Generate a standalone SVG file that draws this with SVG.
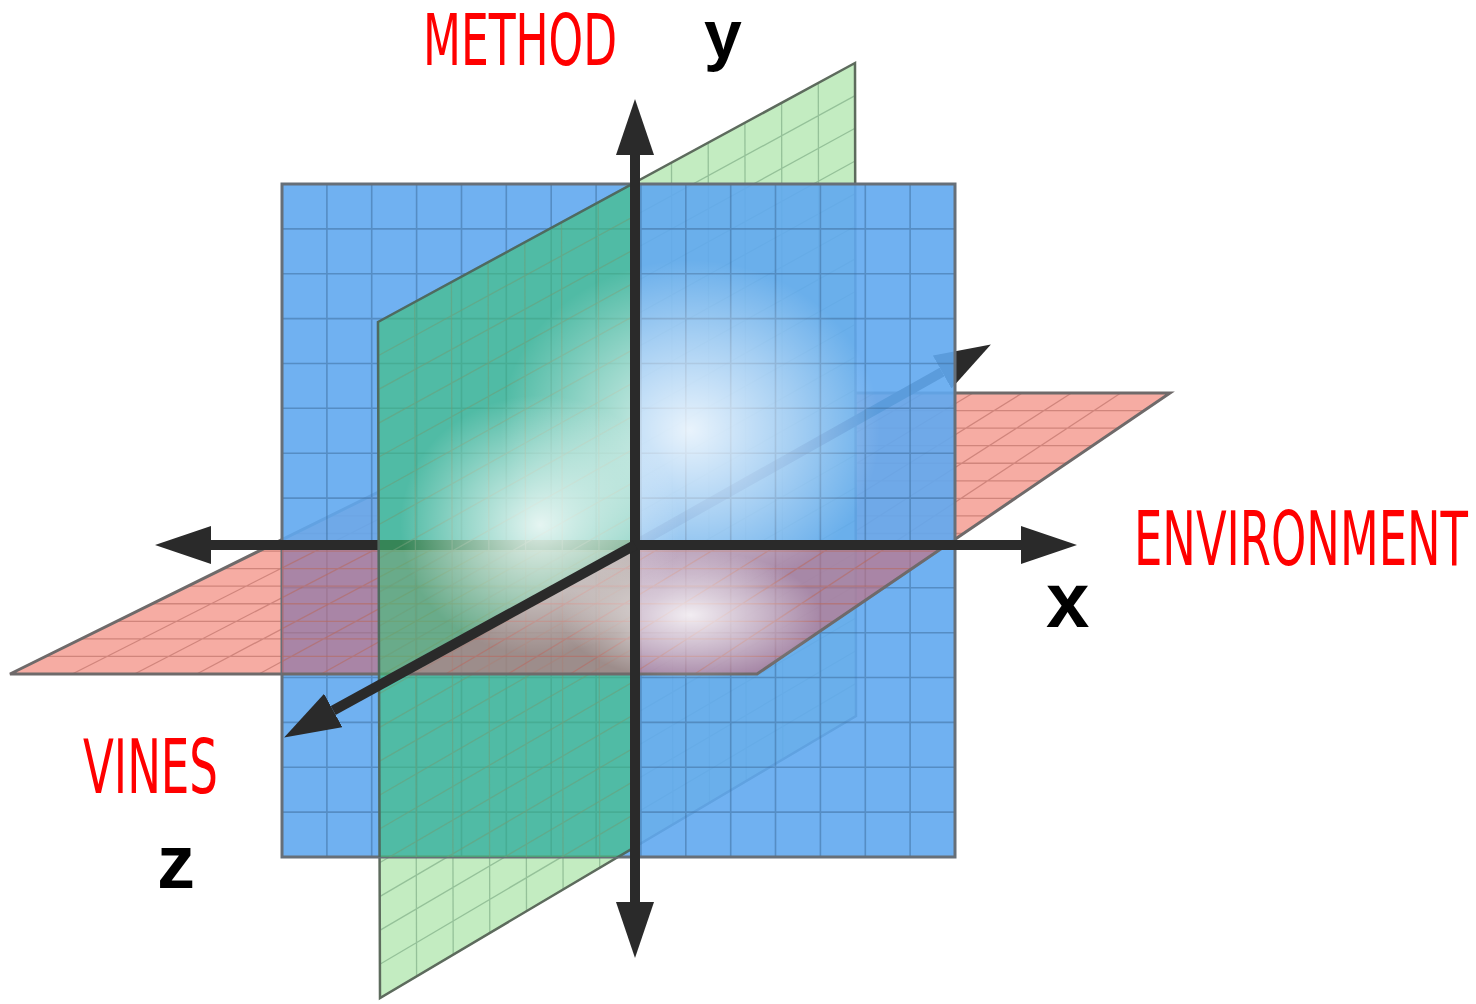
<svg xmlns="http://www.w3.org/2000/svg" xmlns:xlink="http://www.w3.org/1999/xlink" width="1476" height="1004" viewBox="0 0 1476 1004">
<style>
.lbl-red{fill:#ff0000;font-family:"Liberation Sans Narrow","DejaVu Sans Condensed","Liberation Sans",sans-serif;}
.lbl-blk{fill:#000000;font-family:"Liberation Sans",Arial,sans-serif;font-weight:bold;}
.axis{stroke:#2a2a2a;stroke-width:10;fill:none;}
.bgrid{stroke:#3f6f9f;stroke-width:1.6;stroke-opacity:0.55;fill:none;}
.ggrid{stroke:#6f9f78;stroke-width:1.3;stroke-opacity:0.55;fill:none;}
.rgrid{stroke:#b86a62;stroke-width:1.3;stroke-opacity:0.6;fill:none;}
</style>
<defs>
<marker id="ah" markerUnits="userSpaceOnUse" markerWidth="57" markerHeight="38" refX="0" refY="19" orient="auto"><path d="M0,0 L56,19 L0,38 Z" fill="#2a2a2a"/></marker>
<polygon id="redPoly" points="10,674 757,674 1170,393 579,393"/>
<path id="redGrid" d="M45.6,656.4H782.8M81.1,638.9H808.6M116.7,621.3H834.4M152.25,603.75H860.25M187.8,586.2H886.1M223.4,568.6H911.9M258.9,551.1H937.7M294.5,533.5H963.5M330.1,515.9H989.3M365.6,498.4H1015.1M401.2,480.8H1040.9M436.75,463.25H1066.75M472.3,445.7H1092.6M507.9,428.1H1118.4M543.4,410.6H1144.2M72.25,674L628.25,393M134.5,674L677.5,393M196.75,674L726.75,393M259,674L776,393M321.25,674L825.25,393M383.5,674L874.5,393M445.75,674L923.75,393M508,674L973,393M570.25,674L1022.25,393M632.5,674L1071.5,393M694.75,674L1120.75,393"/>
<polygon id="greenPoly" points="378,322 855,63 856,716 380,998"/>
<path id="greenGrid" d="M414.7,302.1L416.6,976.3M451.4,282.2L453.2,954.6M488.1,262.2L489.8,932.9M524.8,242.3L526.5,911.2M561.5,222.4L563.1,889.5M598.2,202.5L599.7,867.8M634.8,182.5L636.3,846.1M671.5,162.6L672.9,824.5M708.2,142.7L709.5,802.8M744.9,122.8L746.2,781.1M781.6,102.8L782.8,759.4M818.3,82.9L819.4,737.7M378.1,355.8L855.05,95.65M378.2,389.6L855.1,128.3M378.3,423.4L855.15,161M378.4,457.2L855.2,193.6M378.5,491L855.25,226.25M378.6,524.8L855.3,258.9M378.7,558.6L855.35,291.55M378.8,592.4L855.4,324.2M378.9,626.2L855.45,356.85M379,660L855.5,389.5M379.1,693.8L855.55,422.15M379.2,727.6L855.6,454.8M379.3,761.4L855.65,487.45M379.4,795.2L855.7,520.1M379.5,829L855.75,552.75M379.6,862.8L855.8,585.4M379.7,896.6L855.85,618.05M379.8,930.4L855.9,650.7M379.9,964.2L855.95,683.35"/>
<clipPath id="clipRedFront"><rect x="282" y="545" width="673" height="312"/></clipPath>
<clipPath id="clipGA"><polygon points="282,184 635,184 635,545 282,738.6"/></clipPath>
<clipPath id="clipGB"><polygon points="635,545 635,857 282,857 282,738.6"/></clipPath>
<radialGradient id="glow"><stop offset="0" stop-color="#ffffff" stop-opacity="0.85"/><stop offset="0.55" stop-color="#ffffff" stop-opacity="0.4"/><stop offset="1" stop-color="#ffffff" stop-opacity="0"/></radialGradient>
</defs>

<g id="plane-xz-back">
<use xlink:href="#redPoly" fill="#f6aca3"/>
<use xlink:href="#redGrid" class="rgrid"/>
<use xlink:href="#redPoly" fill="none" stroke="#6f6a6a" stroke-width="3"/>
</g>
<g id="plane-yz-back">
<use xlink:href="#greenPoly" fill="#c3ecc1"/>
<use xlink:href="#greenGrid" class="ggrid"/>
<use xlink:href="#greenPoly" fill="none" stroke="#5d6b5d" stroke-width="2.5"/>
</g>
<g id="axis-z-back">
<line class="axis" x1="635" y1="545" x2="942.1" y2="372" stroke-width="9" marker-end="url(#ah)"/>
</g>
<g id="plane-xy">
<rect x="282" y="184" width="673" height="673" fill="#60a9ef" fill-opacity="0.9"/>
<path class="bgrid" d="M326.9,184V857M371.7,184V857M416.6,184V857M461.5,184V857M506.3,184V857M551.2,184V857M596.1,184V857M640.9,184V857M685.8,184V857M730.7,184V857M775.5,184V857M820.4,184V857M865.3,184V857M910.1,184V857M282,228.9H955M282,273.7H955M282,318.6H955M282,363.5H955M282,408.3H955M282,453.2H955M282,498.1H955M282,542.9H955M282,587.8H955M282,632.7H955M282,677.5H955M282,722.4H955M282,767.3H955M282,812.1H955"/>
<rect x="282" y="184" width="673" height="673" fill="none" stroke="#666f78" stroke-width="3"/>
</g>
<g id="plane-yz-front-low" clip-path="url(#clipGB)">
<use xlink:href="#greenPoly" fill="#40c376" fill-opacity="0.6"/>
<use xlink:href="#greenGrid" class="ggrid"/>
<use xlink:href="#greenPoly" fill="none" stroke="#4f6a5f" stroke-width="2.5"/>
</g>
<g id="plane-xz-front" clip-path="url(#clipRedFront)">
<use xlink:href="#redPoly" fill="#d06e7a" fill-opacity="0.6"/>
<use xlink:href="#redGrid" class="rgrid"/>
<use xlink:href="#redPoly" fill="none" stroke="#6f6a6a" stroke-width="3"/>
</g>
<g id="axis-x-neg">
<line class="axis" x1="635" y1="545" x2="211" y2="545" marker-end="url(#ah)"/>
</g>
<g id="plane-yz-front-high" clip-path="url(#clipGA)">
<use xlink:href="#greenPoly" fill="#40c376" fill-opacity="0.6"/>
<use xlink:href="#greenGrid" class="ggrid"/>
<use xlink:href="#greenPoly" fill="none" stroke="#4f6a5f" stroke-width="2.5"/>
</g>
<g id="highlights">
<ellipse cx="690" cy="430" rx="190" ry="170" fill="url(#glow)"/>
<ellipse cx="540" cy="525" rx="140" ry="130" fill="url(#glow)"/>
<ellipse cx="690" cy="615" rx="130" ry="65" fill="url(#glow)"/>
</g>
<g id="connectors">
<line class="axis" x1="635" y1="545" x2="1021" y2="545" marker-end="url(#ah)"/>
<line class="axis" x1="635" y1="550" x2="635" y2="155" marker-end="url(#ah)"/>
<line class="axis" x1="635" y1="540" x2="635" y2="902" marker-end="url(#ah)"/>
<line class="axis" x1="635" y1="545" x2="333.2" y2="710.5" marker-end="url(#ah)"/>
</g>
<g id="label-method"><text class="lbl-red" x="423" y="65" font-size="72" textLength="194" lengthAdjust="spacingAndGlyphs">METHOD</text></g>
<g id="label-y"><text class="lbl-blk" x="704" y="58" font-size="68">y</text></g>
<g id="label-environment"><text class="lbl-red" x="1134" y="565" font-size="74" textLength="334" lengthAdjust="spacingAndGlyphs">ENVIRONMENT</text></g>
<g id="label-x"><text class="lbl-blk" x="1046" y="627" font-size="78">x</text></g>
<g id="label-vines"><text class="lbl-red" x="83" y="793" font-size="74" textLength="135" lengthAdjust="spacingAndGlyphs">VINES</text></g>
<g id="label-z"><text class="lbl-blk" x="157" y="888" font-size="76">z</text></g>
</svg>
